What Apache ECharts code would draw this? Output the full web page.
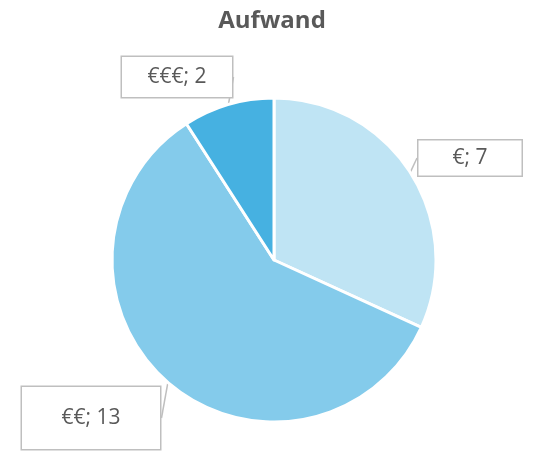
<!DOCTYPE html>
<html>
<head>
<meta charset="utf-8">
<script src="https://cdn.jsdelivr.net/npm/echarts@6/dist/echarts.min.js"></script>
<style>
  html, body { margin: 0; padding: 0; background: #fff; }
  #main { width: 544px; height: 452px; }
</style>
</head>
<body>
<div id="main"></div>
<script>
const categories = ['€', '€€', '€€€']
const values = [7, 13, 2]
const colors = ['#BFE4F4', '#84CBEB', '#46B1E1']

// callout box centres and sizes (px)
const boxPos = [[470, 158], [91, 418], [177, 77]]
const boxSize = [[103, 35], [138, 62], [110, 40]]

let myChart = echarts.init(document.getElementById('main'))
let option = {
  animation: false,
  title: {
    text: 'Aufwand',
    left: 'center',
    top: 4,
    textStyle: {
      color: '#595959',
      fontFamily: 'Open Sans',
      fontWeight: 'bold',
      fontSize: 24
    }
  },
  series: [
    {
      type: 'pie',
      center: [274, 260],
      radius: 162,
      startAngle: 90,
      clockwise: true,
      itemStyle: {
        borderColor: '#fff',
        borderWidth: 3
      },
      label: {
        show: true,
        formatter: '{b}; {c}',
        color: '#595959',
        fontFamily: 'Open Sans',
        fontSize: 21,
        backgroundColor: '#fff',
        borderColor: '#BFBFBF',
        borderWidth: 1.5,
        align: 'center',
        verticalAlign: 'middle'
      },
      labelLine: {
        show: true,
        length: 0,
        length2: 0,
        lineStyle: { color: '#BFBFBF', width: 1.5 }
      },
      labelLayout: function (params) {
        let i = params.dataIndex
        return {
          x: boxPos[i][0],
          y: boxPos[i][1],
          align: 'center',
          verticalAlign: 'middle'
        }
      },
      data: categories.map(function (name, i) {
        return {
          name: name,
          value: values[i],
          itemStyle: { color: colors[i] },
          label: {
            width: boxSize[i][0],
            height: boxSize[i][1],
            lineHeight: boxSize[i][1]
          }
        }
      })
    }
  ]
}
myChart.setOption(option, true)
</script>
</body>
</html>
